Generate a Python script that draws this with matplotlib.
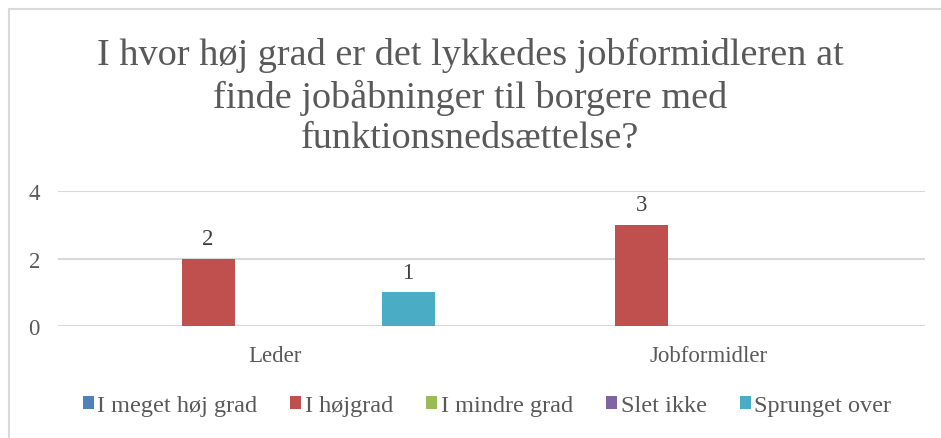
import numpy as np
import matplotlib.pyplot as plt
from matplotlib.patches import Patch

plt.rcParams['font.family'] = ['Liberation Serif', 'DejaVu Serif']

categories = ["Leder", "Jobformidler"]
series = ["I meget høj grad", "I højgrad", "I mindre grad", "Slet ikke", "Sprunget over"]
values = [
    [0, 0],  # I meget høj grad
    [2, 3],  # I højgrad
    [0, 0],  # I mindre grad
    [0, 0],  # Slet ikke
    [1, 0],  # Sprunget over
]
colors = ["#4F81BD", "#C0504D", "#9BBB59", "#8064A2", "#4BACC6"]
title = "I hvor høj grad er det lykkedes jobformidleren at\nfinde jobåbninger til borgere med\nfunktionsnedsættelse?"

txt = "#595959"
fig = plt.figure(figsize=(9.41, 4.39), dpi=100)
ax = fig.add_axes([58 / 941, 1 - 327 / 439, 867 / 941, 135 / 439])

x = np.arange(len(categories))
slot = 0.1538
width = 0.122
for i, (name, vals) in enumerate(zip(series, values)):
    pos = x + (i - 2) * slot
    ax.bar(pos, vals, width=width, color=colors[i], zorder=3)
    for p, v in zip(pos, vals):
        if v > 0:
            ax.text(p, v + 0.28, str(v), ha='center', va='bottom', fontsize=16.5, color="#404040")

ax.set_xlim(-0.5, 1.5)
ax.set_ylim(0, 4)
ax.set_yticks([0, 2, 4])
ax.set_xticks(x)
ax.set_xticklabels(categories)
ax.tick_params(axis='both', length=0, labelsize=16.5, labelcolor=txt)
ax.tick_params(axis='y', pad=13)
ax.tick_params(axis='x', pad=14)
ax.grid(axis='y', color="#D9D9D9", linewidth=1.5, zorder=0)
for s in ax.spines.values():
    s.set_visible(False)

fig.text(0.5, 1 - 97 / 439, title, ha='center', va='center', fontsize=27.5,
         color=txt, linespacing=1.24)

handles = [Patch(facecolor=c) for c in colors]
fig.legend(handles, series, loc='center', bbox_to_anchor=(487 / 941, 1 - 407 / 439), ncol=5,
           frameon=False, fontsize=17.5, labelcolor=txt, handlelength=0.45, handleheight=0.45,
           handletextpad=0.15, columnspacing=1.36)

# chart area border
fig.add_artist(plt.Line2D([8.5 / 941, 1], [1 - 9.5 / 439] * 2, color="#D9D9D9", lw=1.5))
fig.add_artist(plt.Line2D([8.5 / 941] * 2, [0, 1 - 9.5 / 439], color="#D9D9D9", lw=1.5))

fig.savefig("out.png", dpi=100)
